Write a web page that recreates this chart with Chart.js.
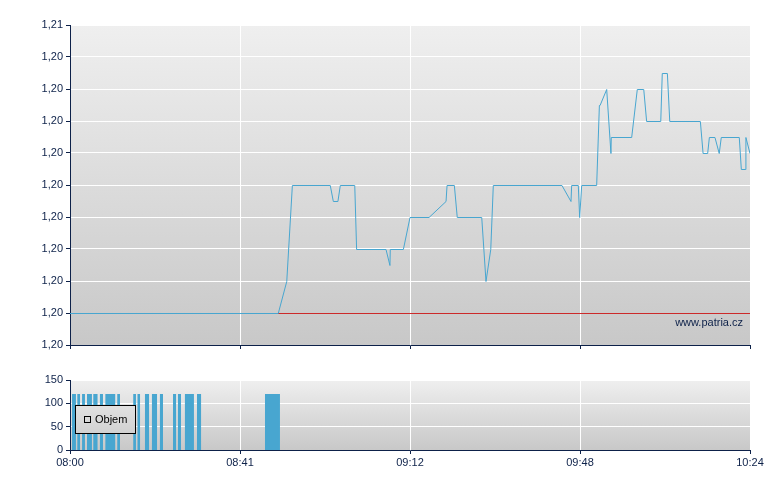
<!DOCTYPE html>
<html>
<head>
<meta charset="utf-8">
<title>Kurz a objem</title>
<script src="https://cdn.jsdelivr.net/npm/chart.js@4"></script>
<style>
  body { margin: 0; background: #fff; }
  #wrap { position: relative; width: 780px; height: 490px; }
  canvas { position: absolute; left: 0; }
  #priceChart { top: 0; }
  #volChart { top: 360px; }
</style>
</head>
<body>
<div id="wrap">
  <canvas id="priceChart" width="780" height="360"></canvas>
  <canvas id="volChart" width="780" height="130"></canvas>
</div>
<script>
// x = position in the session (0 = 08:00, 400 = 10:24); labels are evenly spaced
const xTickValues = [0, 100, 200, 300, 400];
const xTickLabels = ['08:00', '08:41', '09:12', '09:48', '10:24'];

const priceTicks = [1.1994, 1.2000, 1.2006, 1.2012, 1.2018, 1.2024, 1.2030, 1.2036, 1.2042, 1.2048, 1.2054];
const priceTickLabels = ['1,20', '1,20', '1,20', '1,20', '1,20', '1,20', '1,20', '1,20', '1,20', '1,20', '1,21'];
const prevClose = 1.2000;

const priceX = [0, 122.5, 127.5, 130.8, 153.1, 154.9, 157.6, 159.0, 167.5, 168.6,
  185.9, 188.2, 188.4, 196.1, 200.0, 211.2, 221.2, 221.8, 226.1, 227.8,
  242.2, 244.7, 247.5, 249.0, 289.4, 294.7, 295.1, 299.0, 299.8, 301.0,
  309.8, 311.4, 311.8, 315.7, 318.2, 318.4, 330.4, 333.7, 337.5, 339.2,
  347.5, 348.4, 351.4, 352.8, 370.8, 372.4, 375.1, 376.1, 379.4, 381.9,
  383.1, 393.7, 394.9, 397.5, 397.6, 400];
const priceY = [1.2000, 1.2000, 1.2006, 1.2024, 1.2024, 1.2021, 1.2021, 1.2024, 1.2024, 1.2012,
  1.2012, 1.2009, 1.2012, 1.2012, 1.2018, 1.2018, 1.2021, 1.2024, 1.2024, 1.2018,
  1.2018, 1.2006, 1.2012, 1.2024, 1.2024, 1.2021, 1.2024, 1.2024, 1.2018, 1.2024,
  1.2024, 1.2039, 1.2039, 1.2042, 1.2030, 1.2033, 1.2033, 1.2042, 1.2042, 1.2036,
  1.2036, 1.2045, 1.2045, 1.2036, 1.2036, 1.2030, 1.2030, 1.2033, 1.2033, 1.2030,
  1.2033, 1.2033, 1.2027, 1.2027, 1.2033, 1.2030];

// volume blocks: start / end position and volume
const volFrom = [1.2, 4.3, 7.1, 10.0, 13.7, 17.6, 20.8, 27.8, 37.2, 39.7, 44.1, 48.2, 52.9, 60.6, 63.5, 67.6, 74.7, 114.7];
const volTo = [3.5, 5.9, 8.8, 12.9, 16.2, 19.4, 26.6, 29.4, 38.8, 41.2, 46.5, 51.2, 54.7, 62.4, 65.3, 72.9, 77.1, 123.5];
const volValues = [120, 120, 120, 120, 120, 120, 120, 120, 120, 120, 120, 120, 120, 120, 120, 120, 120, 120];
const volTicks = [0, 50, 100, 150];

const navy = '#0d2149';
const blue = '#48a6d0';
const font = { family: 'Arial, "Liberation Sans", sans-serif', size: 11 };

const bgPlugin = {
  id: 'bg',
  beforeDraw(chart) {
    const { ctx, chartArea: a } = chart;
    const g = ctx.createLinearGradient(0, a.top, 0, a.bottom);
    g.addColorStop(0, '#efefef');
    g.addColorStop(1, '#c8c8c8');
    chart.$bg = g;
    ctx.save();
    ctx.fillStyle = g;
    ctx.fillRect(a.left, a.top, a.right - a.left, a.bottom - a.top);
    ctx.restore();
  }
};

// half-pixel shift so the 1px price lines land on whole rows
const crispPlugin = {
  id: 'crisp',
  beforeDatasetsDraw(chart) { chart.ctx.save(); chart.ctx.translate(0, 0.5); },
  afterDatasetsDraw(chart) { chart.ctx.restore(); }
};

function xScale(showLabels, height) {
  return {
    type: 'linear', min: 0, max: 400,
    afterBuildTicks: s => { s.ticks = xTickValues.map(v => ({ value: v })); },
    afterFit: s => { s.height = height; },
    ticks: {
      display: showLabels, font, color: navy, padding: 2, maxRotation: 0,
      callback: (v, i) => xTickLabels[i]
    },
    grid: { color: '#ffffff', tickColor: navy, tickLength: 4 },
    border: { color: navy, width: 1 }
  };
}

new Chart(document.getElementById('priceChart'), {
  type: 'line',
  data: {
    datasets: [{
      label: 'Kurz',
      data: priceX.map((x, i) => ({ x, y: priceY[i] })),
      borderColor: blue, borderWidth: 1, pointRadius: 0, tension: 0, order: 1
    }, {
      label: 'Předchozí závěr',
      data: [{ x: 0, y: prevClose }, { x: 400, y: prevClose }],
      borderColor: '#cc2a2a', borderWidth: 1, pointRadius: 0, order: 2
    }]
  },
  options: {
    responsive: false, animation: false,
    layout: { padding: { top: 25, right: 30, left: 0, bottom: 0 } },
    plugins: { legend: { display: false }, tooltip: { enabled: false } },
    scales: {
      x: xScale(false, 15),
      y: {
        type: 'linear', min: priceTicks[0], max: priceTicks[priceTicks.length - 1],
        afterBuildTicks: s => { s.ticks = priceTicks.map(v => ({ value: v })); },
        afterFit: s => { s.width = 70; },
        ticks: { font, color: navy, padding: 3, callback: (v, i) => priceTickLabels[i] },
        grid: { color: '#ffffff', tickColor: navy, tickLength: 4 },
        border: { color: navy, width: 1 }
      }
    }
  },
  plugins: [bgPlugin, crispPlugin, {
    id: 'watermark',
    afterDraw(chart) {
      const { ctx, chartArea: a } = chart;
      ctx.save();
      ctx.font = '11px Arial, "Liberation Sans", sans-serif';
      ctx.fillStyle = navy;
      ctx.textAlign = 'right';
      ctx.textBaseline = 'middle';
      ctx.fillText('www.patria.cz', a.right - 7, a.bottom - 22);
      ctx.restore();
    }
  }]
});

// volume drawn as filled steps so each block keeps its own width
const volPoints = [{ x: 0, y: 0 }];
volFrom.forEach((x, i) => {
  volPoints.push({ x, y: volValues[i] });
  volPoints.push({ x: volTo[i], y: 0 });
});

new Chart(document.getElementById('volChart'), {
  type: 'line',
  data: {
    datasets: [{
      label: 'Objem',
      data: volPoints,
      stepped: true, fill: 'origin',
      backgroundColor: blue, borderColor: blue, borderWidth: 0, pointRadius: 0
    }]
  },
  options: {
    responsive: false, animation: false,
    layout: { padding: { top: 20, right: 30, left: 0, bottom: 0 } },
    plugins: { legend: { display: false }, tooltip: { enabled: false } },
    scales: {
      x: xScale(true, 40),
      y: {
        type: 'linear', min: 0, max: 150,
        afterBuildTicks: s => { s.ticks = volTicks.map(v => ({ value: v })); },
        afterFit: s => { s.width = 70; },
        ticks: { font, color: navy, padding: 3 },
        grid: { color: '#ffffff', tickColor: navy, tickLength: 4 },
        border: { color: navy, width: 1 }
      }
    }
  },
  plugins: [bgPlugin, {
    id: 'legendBox',
    afterDatasetsDraw(chart) {
      const ctx = chart.ctx;
      ctx.save();
      ctx.fillStyle = chart.$bg;
      ctx.fillRect(75.5, 45.5, 60, 28);
      ctx.strokeStyle = '#000';
      ctx.lineWidth = 1;
      ctx.strokeRect(75.5, 45.5, 60, 28);
      ctx.strokeRect(84.5, 56.5, 6, 6);
      ctx.font = '11px Arial, "Liberation Sans", sans-serif';
      ctx.fillStyle = '#000';
      ctx.textBaseline = 'middle';
      ctx.fillText('Objem', 95, 60);
      ctx.restore();
    }
  }]
});
</script>
</body>
</html>
